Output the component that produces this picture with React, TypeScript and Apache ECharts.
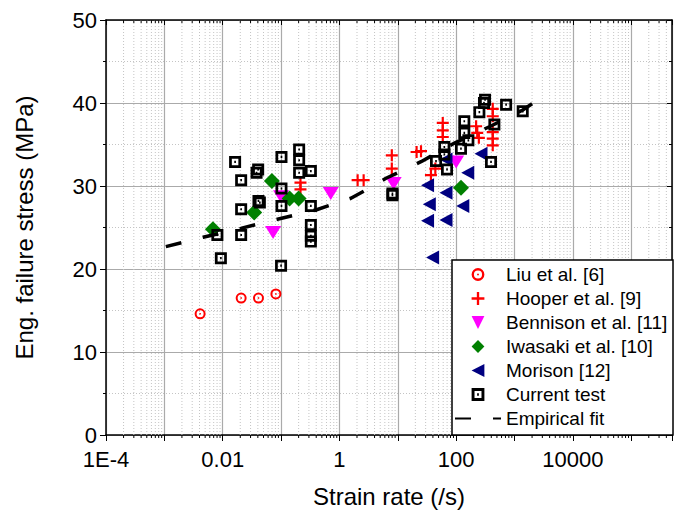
import React, { useEffect, useRef } from 'react';
import * as echarts from 'echarts';

// ---------- data ----------
const liuRate = [0.0041, 0.0207, 0.041, 0.0815];
const liuStress = [14.6, 16.5, 16.5, 17.0];

const hooperRate = [0.215, 0.215, 2.05, 2.6, 7.9, 7.9, 21, 25, 37, 44, 59, 59, 59, 220, 230, 245, 424, 424, 424, 424, 424];
const hooperStress = [30.4, 29.6, 30.7, 30.7, 33.7, 32.1, 34.1, 34.2, 31.3, 32.1, 37.6, 36.7, 35.9, 37.2, 36.4, 35.8, 39.3, 38.4, 36.5, 35.7, 34.9];

const bennisonRate = [0.073, 0.1, 0.71, 8.5, 100];
const bennisonStress = [24.4, 28.7, 29.1, 30.3, 32.9];

const iwasakiRate = [0.0068, 0.0346, 0.0695, 0.14, 0.2, 121];
const iwasakiStress = [24.8, 26.8, 30.6, 28.5, 28.5, 29.8];

const morisonRate = [267, 158, 32.4, 67, 130, 34.7, 32.4, 67, 39.5, 67];
const morisonStress = [33.9, 31.6, 30.1, 29.2, 27.6, 27.8, 25.8, 25.9, 21.4, 33.2];

const currentRate = [
  0.0163, 0.0207, 0.0405, 0.038, 0.1016, 0.204, 0.204, 0.204, 0.324, 0.1016,
  0.0433, 0.041, 0.0207, 0.1016, 0.324, 0.0081, 0.0207, 0.324, 0.324, 0.324,
  0.0093, 0.1, 8.1, 8.1, 62.8, 62.8, 45.2, 69.8, 138, 138,
  162, 121, 250, 313, 300, 718, 1383, 452, 396,
];
const currentStress = [
  32.9, 30.7, 32.0, 31.6, 33.5, 34.4, 33.1, 31.6, 31.8, 29.7,
  28.0, 28.2, 27.2, 27.6, 27.6, 24.1, 24.1, 25.3, 24.0, 23.3,
  21.3, 20.4, 29.1, 28.9, 34.7, 33.8, 33.0, 32.0, 37.8, 36.4,
  35.5, 34.5, 38.9, 40.4, 40.0, 39.8, 39.0, 37.4, 32.9,
];

const fitRate = [0.00106, 0.00461, 0.0204, 0.0867, 0.395, 1.574, 2.85, 6.28, 25.0, 89.5, 370.7, 1384, 2344];
const fitStress = [22.69, 23.82, 24.9, 25.99, 27.11, 28.52, 29.52, 30.93, 32.93, 35.1, 37.14, 39.16, 40.24];

const seriesNames = ['Liu et al. [6]', 'Hooper et al. [9]', 'Bennison et al. [11]', 'Iwasaki et al. [10]', 'Morison [12]', 'Current test', 'Empirical fit'];

const xTickExps = [-4, -2, 0, 2, 4];
const xTickLabels = ['1E-4', '0.01', '1', '100', '10000'];
const xMin = 1e-4;
const xMax = 5e5;

// ---------- helpers ----------
const pair = (xs: number[], ys: number[]) => xs.map((x, i) => [x, ys[i]]);

const FONT = 'Arial, "Liberation Sans", sans-serif';

const ringDot = 'path://M11 0 A11 11 0 1 1 11 22 A11 11 0 1 1 11 0 Z M11 4 A7 7 0 1 0 11 18 A7 7 0 1 0 11 4 Z M9.5 9.5 L12.5 9.5 L12.5 12.5 L9.5 12.5 Z';
const squareDot = 'path://M0 0 L22 0 L22 22 L0 22 Z M5 5 L5 17 L17 17 L17 5 Z M9.5 9 L12.5 9 L12.5 13 L9.5 13 Z';
const plus = 'path://M9 0 L13 0 L13 9 L22 9 L22 13 L13 13 L13 22 L9 22 L9 13 L0 13 L0 9 L9 9 Z';

const minorRates: number[] = [];
for (let e = -4; e <= 6; e++) {
  for (let m = 2; m <= 9; m++) {
    const v = m * Math.pow(10, e);
    if (v < xMax) minorRates.push(v);
  }
}

function markerSeries(name: string, data: number[][], symbol: string, size: any, color: string, rotate = 0) {
  return {
    type: 'line',
    name,
    data,
    symbol,
    symbolSize: size,
    symbolRotate: rotate,
    showSymbol: true,
    itemStyle: { color, opacity: 1 },
    lineStyle: { width: 0, opacity: 0 },
    silent: true,
    z: 2,
  };
}

export default function App() {
  const ref = useRef<HTMLDivElement>(null);
  useEffect(() => {
    if (!ref.current) return;
    const chart = echarts.init(ref.current, undefined, { renderer: 'svg' });
    const option: any = {
      animation: false,
      backgroundColor: '#fff',
      textStyle: { fontFamily: FONT },
      grid: { left: 106, right: 2, top: 20, bottom: 92, containLabel: false },
      xAxis: [
        {
          type: 'log',
          logBase: 10,
          min: xMin,
          max: xMax,
          position: 'bottom',
          name: 'Strain rate (/s)',
          nameLocation: 'middle',
          nameGap: 49,
          nameTextStyle: { fontSize: 24, color: '#000', fontFamily: FONT },
          axisLine: { show: true, onZero: false, lineStyle: { color: '#000', width: 1.5 } },
          axisTick: { show: true, length: 6, lineStyle: { color: '#000', width: 1 } },
          axisLabel: {
            fontSize: 22,
            color: '#000',
            fontFamily: FONT,
            margin: 13,
            formatter: (v: number) => {
              const l = Math.log10(v);
              const e = Math.round(l);
              if (Math.abs(l - e) > 1e-6) return '';
              const i = xTickExps.indexOf(e);
              return i >= 0 ? xTickLabels[i] : '';
            },
          },
          splitLine: { show: true, lineStyle: { color: '#aaaaaa', width: 1.2 } },
        },
        {
          type: 'log',
          logBase: 10,
          min: xMin,
          max: xMax,
          position: 'top',
          axisLine: { show: true, onZero: false, lineStyle: { color: '#000', width: 1.5 } },
          axisTick: { show: true, inside: true, length: 5, lineStyle: { color: '#000', width: 1 } },
          axisLabel: { show: false },
          splitLine: { show: false },
        },
      ],
      yAxis: [
        {
          type: 'value',
          min: 0,
          max: 50,
          interval: 10,
          position: 'left',
          name: 'Eng. failure stress (MPa)',
          nameLocation: 'middle',
          nameGap: 70,
          nameRotate: 90,
          nameTextStyle: { fontSize: 24, color: '#000', fontFamily: FONT },
          axisLine: { show: true, onZero: false, lineStyle: { color: '#000', width: 1.5 } },
          axisTick: { show: true, length: 6, lineStyle: { color: '#000', width: 1 } },
          minorTick: { show: true, splitNumber: 2, length: 3, lineStyle: { color: '#000', width: 1 } },
          axisLabel: { fontSize: 22, color: '#000', fontFamily: FONT, margin: 9 },
          splitLine: { show: true, lineStyle: { color: '#aaaaaa', width: 1.2 } },
          minorSplitLine: { show: true, lineStyle: { color: '#c4c4c4', width: 1, type: [1, 2] } },
        },
        {
          type: 'value',
          min: 0,
          max: 50,
          interval: 10,
          position: 'right',
          axisLine: { show: true, onZero: false, lineStyle: { color: '#000', width: 1.5 } },
          axisTick: { show: true, inside: true, length: 5, lineStyle: { color: '#000', width: 1 } },
          minorTick: { show: true, splitNumber: 2, length: 3, lineStyle: { color: '#000', width: 1 } },
          axisLabel: { show: false },
          splitLine: { show: false },
        },
      ],
      legend: {
        orient: 'vertical',
        left: 454,
        top: 265,
        padding: 0,
        itemWidth: 46,
        itemHeight: 16,
        itemGap: 5,
        selectedMode: false,
        textStyle: { fontSize: 19, color: '#000', fontFamily: FONT },
        data: [
          ...seriesNames.slice(0, 6).map((n) => ({ name: n })),
          { name: seriesNames[6], itemStyle: { opacity: 0 } },
        ],
        z: 6,
      },
      graphic: [
        {
          type: 'rect',
          shape: { x: 452, y: 260, width: 221, height: 175 },
          style: { fill: '#fff', stroke: '#000', lineWidth: 1.5 },
          z: 5,
          silent: true,
        },
      ],
      series: [
        {
          type: 'custom',
          name: 'minor',
          xAxisIndex: 0,
          yAxisIndex: 0,
          silent: true,
          z: 1,
          clip: false,
          encode: { x: 0, y: 1 },
          data: minorRates.map((v) => [v, 0]),
          renderItem: (params: any, api: any) => {
            const v = api.value(0);
            const p0 = api.coord([v, 0]);
            const p1 = api.coord([v, 50]);
            return {
              type: 'group',
              children: [
                { type: 'line', shape: { x1: p0[0], y1: p0[1], x2: p1[0], y2: p1[1] }, style: { stroke: '#c4c4c4', lineWidth: 1, lineDash: [1, 2] } },
                { type: 'line', shape: { x1: p0[0], y1: p0[1], x2: p0[0], y2: p0[1] + 3 }, style: { stroke: '#000', lineWidth: 1 } },
                { type: 'line', shape: { x1: p1[0], y1: p1[1], x2: p1[0], y2: p1[1] + 3 }, style: { stroke: '#000', lineWidth: 1 } },
              ],
            };
          },
        },
        markerSeries(seriesNames[0], pair(liuRate, liuStress), ringDot, 11, '#ff0000'),
        markerSeries(seriesNames[1], pair(hooperRate, hooperStress), plus, 12, '#ff0000'),
        markerSeries(seriesNames[2], pair(bennisonRate, bennisonStress), 'triangle', [16, 13], '#ff00ff', 180),
        markerSeries(seriesNames[3], pair(iwasakiRate, iwasakiStress), 'diamond', [16, 16], '#008000'),
        markerSeries(seriesNames[4], pair(morisonRate, morisonStress), 'triangle', [14, 13], '#000080', 90),
        markerSeries(seriesNames[5], pair(currentRate, currentStress), squareDot, 12, '#000000'),
        {
          type: 'line',
          name: seriesNames[6],
          data: pair(fitRate, fitStress),
          symbol: 'none',
          smooth: false,
          itemStyle: { color: '#000' },
          lineStyle: { color: '#000', width: 3.5, type: [16, 22] },
          silent: true,
          z: 3,
        },
      ],
    };
    chart.setOption(option);
    return () => chart.dispose();
  }, []);
  return <div ref={ref} style={{ position: 'fixed', left: 0, top: 0, width: 675, height: 527 }} />;
}
